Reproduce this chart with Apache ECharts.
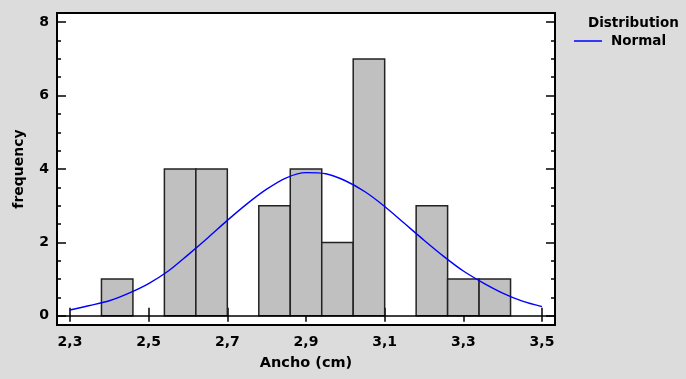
<!DOCTYPE html>
<html>
<head>
<meta charset="utf-8">
<script src="https://cdn.jsdelivr.net/npm/echarts@6/dist/echarts.min.js"></script>
<style>
html,body{margin:0;padding:0;background:#dcdcdc;}
#chart{width:686px;height:379px;}
</style>
</head>
<body>
<div id="chart"></div>
<script>
// Histogram bin edges and frequencies
var binEdges = [2.30, 2.38, 2.46, 2.54, 2.62, 2.70, 2.78, 2.86, 2.94, 3.02, 3.10, 3.18, 3.26, 3.34, 3.42, 3.50];
var binCounts = [0, 1, 0, 4, 4, 0, 3, 4, 2, 7, 0, 3, 1, 1, 0];

// Fitted normal curve
var curveX = [2.30, 2.35, 2.40, 2.45, 2.50, 2.55, 2.60, 2.65, 2.70, 2.75, 2.80, 2.85, 2.90, 2.95, 3.00, 3.05, 3.10, 3.15, 3.20, 3.25, 3.30, 3.35, 3.40, 3.45, 3.50];
var curveY = [0.16, 0.28, 0.41, 0.62, 0.88, 1.22, 1.66, 2.12, 2.60, 3.05, 3.45, 3.76, 3.90, 3.87, 3.68, 3.38, 2.98, 2.52, 2.06, 1.62, 1.22, 0.90, 0.62, 0.40, 0.25];

// Tick values
var xTicks = [2.3, 2.5, 2.7, 2.9, 3.1, 3.3, 3.5];
var yTicks = [0, 2, 4, 6, 8];
var yMinorTicks = [0.5, 1, 1.5, 2.5, 3, 3.5, 4.5, 5, 5.5, 6.5, 7, 7.5];

var histData = [];
for (var i = 0; i < binCounts.length; i++) {
  if (binCounts[i] > 0) histData.push([binEdges[i], binEdges[i + 1], binCounts[i]]);
}
var lineData = curveX.map(function (x, i) { return [x, curveY[i]]; });

var FONT = 'DejaVu Sans';
var X_MIN = 2.267, X_MAX = 3.533, Y_MIN = -0.25, Y_MAX = 8.25;

function yAxisDef(pos, ticks, len, showLabel, name) {
  return {
    type: 'value', position: pos, min: Y_MIN, max: Y_MAX,
    name: name || '', nameLocation: 'middle', nameGap: 31,
    nameTextStyle: { fontFamily: FONT, fontWeight: 'bold', fontSize: 14, color: '#000' },
    axisLine: { show: false },
    splitLine: { show: false },
    axisTick: { show: true, inside: true, length: len, customValues: ticks, lineStyle: { color: '#000', width: 1.5 } },
    axisLabel: { show: showLabel, customValues: ticks, margin: 8, fontFamily: FONT, fontWeight: 'bold', fontSize: 14, color: '#000',
      formatter: function (v) { return String(v); } }
  };
}

var chart = echarts.init(document.getElementById('chart'), null, { renderer: 'canvas' });
chart.setOption({
  backgroundColor: '#dcdcdc',
  animation: false,
  title: {
    text: 'Distribution', left: 583, top: 11,
    textStyle: { fontFamily: FONT, fontWeight: 'bold', fontSize: 13.5, color: '#000' }
  },
  legend: {
    left: 569, top: 29, orient: 'vertical',
    itemWidth: 28, itemHeight: 1.5,
    data: [{ name: 'Normal', icon: 'rect' }],
    itemStyle: { color: '#0000ff' },
    textStyle: { fontFamily: FONT, fontWeight: 'bold', fontSize: 13.5, color: '#000', padding: [0, 0, 0, 4] }
  },
  grid: {
    left: 57, top: 13, width: 498, height: 312,
    show: true, backgroundColor: '#ffffff', borderColor: '#000', borderWidth: 2
  },
  xAxis: [{
    type: 'value', position: 'bottom', min: X_MIN, max: X_MAX,
    name: 'Ancho (cm)', nameLocation: 'middle', nameGap: 31,
    nameTextStyle: { fontFamily: FONT, fontWeight: 'bold', fontSize: 14.5, color: '#000' },
    axisLine: { show: false }, splitLine: { show: false },
    axisTick: { show: true, inside: true, length: 8, customValues: xTicks, lineStyle: { color: '#000', width: 1.5 } },
    axisLabel: { customValues: xTicks, margin: 10, fontFamily: FONT, fontWeight: 'bold', fontSize: 14, color: '#000',
      formatter: function (v) { return Number(v).toFixed(1).replace('.', ','); } }
  }, {
    type: 'value', position: 'top', min: X_MIN, max: X_MAX,
    axisLine: { show: false }, splitLine: { show: false },
    axisTick: { show: true, inside: true, length: 6, customValues: xTicks, lineStyle: { color: '#000', width: 1.5 } },
    axisLabel: { show: false }
  }],
  yAxis: [
    yAxisDef('left', yTicks, 9, true, 'frequency'),
    yAxisDef('left', yMinorTicks, 4, false),
    yAxisDef('right', yTicks, 9, false),
    yAxisDef('right', yMinorTicks, 4, false)
  ],
  series: [{
    type: 'custom',
    name: 'hist',
    xAxisIndex: 0, yAxisIndex: 0,
    data: histData,
    encode: { x: [0, 1], y: 2 },
    renderItem: function (params, api) {
      var p0 = api.coord([api.value(0), api.value(2)]);
      var p1 = api.coord([api.value(1), 0]);
      return {
        type: 'rect',
        shape: { x: p0[0], y: p0[1], width: p1[0] - p0[0], height: p1[1] - p0[1] },
        style: { fill: '#c0c0c0', stroke: '#222', lineWidth: 1.5 }
      };
    },
    silent: true
  }, {
    type: 'line',
    name: 'Normal',
    xAxisIndex: 0, yAxisIndex: 0,
    data: lineData,
    symbol: 'none',
    smooth: 0.3,
    lineStyle: { color: '#0000ff', width: 1.4 },
    itemStyle: { color: '#0000ff' },
    markLine: {
      silent: true, symbol: 'none', label: { show: false },
      lineStyle: { color: '#000', width: 1.5, type: 'solid' },
      data: [{ yAxis: 0 }]
    },
    z: 5
  }]
});
</script>
</body>
</html>
